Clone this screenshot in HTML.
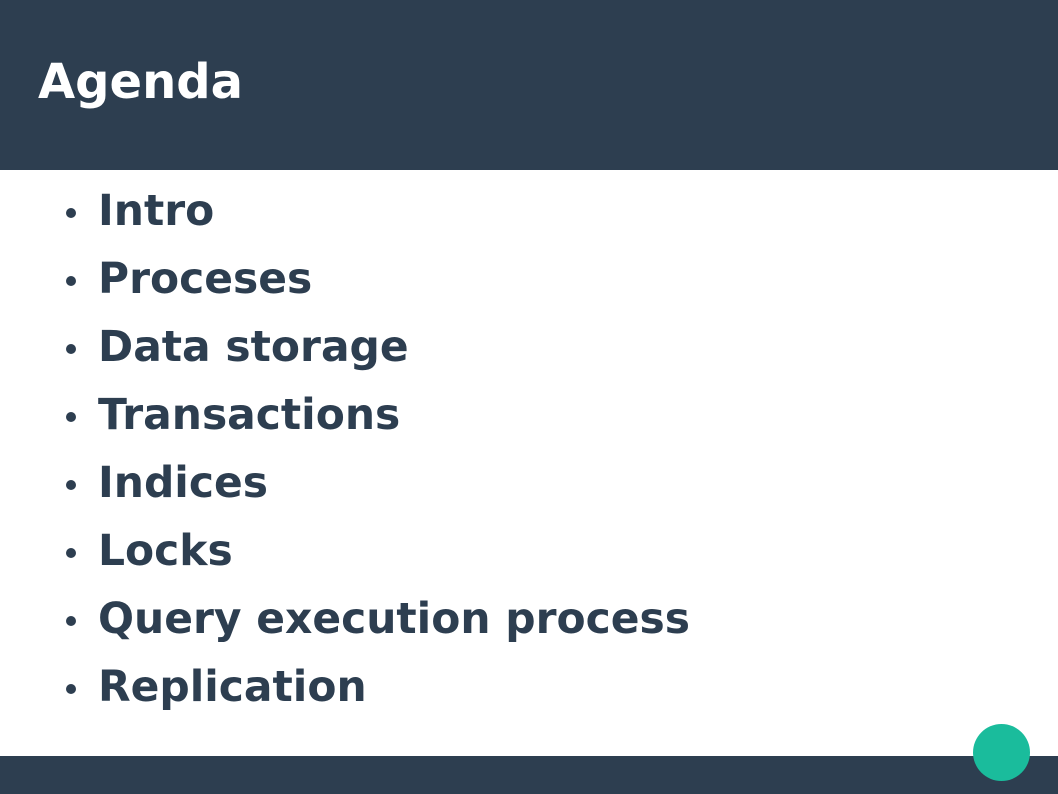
<!DOCTYPE html>
<html><head><meta charset="utf-8"><style>
html,body{margin:0;padding:0;}
body{width:1058px;height:794px;position:relative;overflow:hidden;background:#fff;font-family:"DejaVu Sans","Liberation Sans",sans-serif;font-weight:bold;}
.hdr{position:absolute;left:0;top:0;width:1058px;height:170px;background:#2d3e50;}
.title{position:absolute;left:38px;top:82px;color:#fff;font-size:48px;line-height:0;white-space:nowrap;}
.item{position:absolute;left:98px;color:#2d3e50;font-size:42.4px;line-height:0;white-space:nowrap;}
.dot{position:absolute;left:65.5px;width:10px;height:10px;border-radius:50%;background:#2d3e50;}
.ftr{position:absolute;left:0;top:756px;width:1058px;height:38px;background:#2d3e50;}
.circ{position:absolute;left:973px;top:724px;width:57px;height:57px;border-radius:50%;background:#1abc9c;}
</style></head><body>
<div class="hdr"></div>
<div class="title">Agenda</div>
<div class="dot" style="top:208px"></div><div class="item" style="top:211px">Intro</div>
<div class="dot" style="top:276px"></div><div class="item" style="top:279px">Proceses</div>
<div class="dot" style="top:344px"></div><div class="item" style="top:347px">Data storage</div>
<div class="dot" style="top:412px"></div><div class="item" style="top:415px">Transactions</div>
<div class="dot" style="top:480px"></div><div class="item" style="top:483px">Indices</div>
<div class="dot" style="top:548px"></div><div class="item" style="top:551px">Locks</div>
<div class="dot" style="top:616px"></div><div class="item" style="top:619px">Query execution process</div>
<div class="dot" style="top:684px"></div><div class="item" style="top:687px">Replication</div>
<div class="ftr"></div>
<div class="circ"></div>
</body></html>
